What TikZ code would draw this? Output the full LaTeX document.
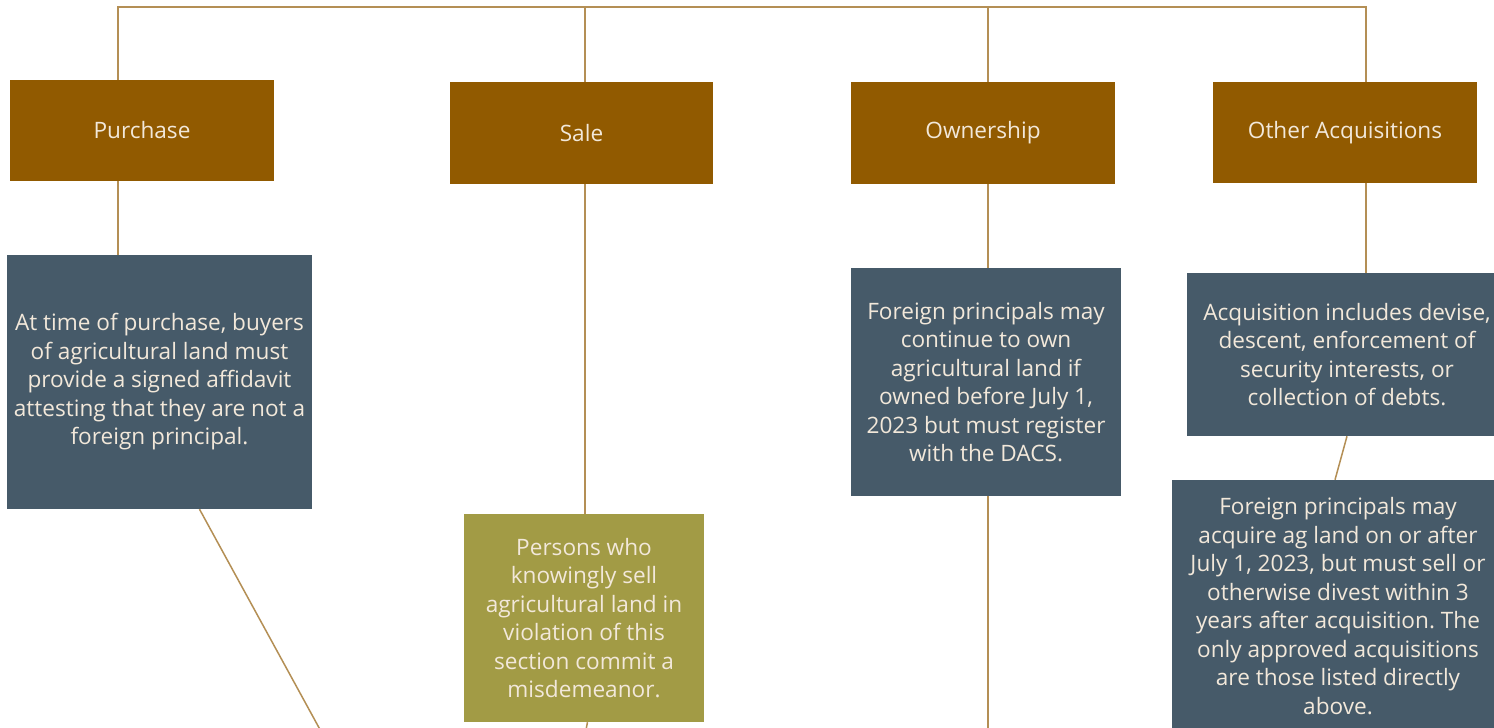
\documentclass[tikz,border=0pt]{standalone}
\usepackage{fontspec}
\setmainfont{Open Sans}
\frenchspacing
\definecolor{hdr}{HTML}{915A00}
\definecolor{slate}{HTML}{465A69}
\definecolor{olive}{HTML}{A29B45}
\definecolor{wire}{HTML}{B48F55}
\definecolor{txt}{HTML}{F2E8DA}
\tikzset{
  box/.style={rectangle, inner sep=0pt, text=txt, align=center, font=\fontsize{22.6}{28.5}\selectfont\frenchspacing},
  hdrbox/.style={box, fill=hdr},
  slatebox/.style={box, fill=slate},
  olivebox/.style={box, fill=olive},
  wireline/.style={draw=wire, line width=1.5pt}
}
\begin{document}
\begin{tikzpicture}[x=1pt,y=-1pt]
\useasboundingbox (0,0) rectangle (1494,728);
\clip (0,0) rectangle (1494,728);
\fill[white] (0,0) rectangle (1494,728);
% headers
\node[hdrbox, minimum width=264pt, minimum height=101pt] (pur) at (142,130.5) {Purchase};
\node[hdrbox, minimum width=263pt, minimum height=102pt] (sal) at (581.5,133) {Sale};
\node[hdrbox, minimum width=264pt, minimum height=102pt] (own) at (983,133) {Ownership};
\node[hdrbox, minimum width=264pt, minimum height=101pt] (oth) at (1345,132.5) {Other Acquisitions};
% details
\node[slatebox, minimum width=305pt, minimum height=254pt] (pd) at (159.5,382) {At time of purchase, buyers\\of agricultural land must\\provide a signed affidavit\\attesting that they are not a\\foreign principal.};
\node[olivebox, minimum width=240pt, minimum height=208pt] (sd) at (584,618) {Persons who\\knowingly sell\\agricultural land in\\violation of this\\section commit a\\misdemeanor.};
\node[slatebox, minimum width=270pt, minimum height=228pt] (od) at (986,382) {Foreign principals may\\continue to own\\agricultural land if\\owned before July 1,\\2023 but must register\\with the DACS.};
\node[slatebox, minimum width=320pt, minimum height=163pt] (ad) at (1347,354.5) {Acquisition includes devise,\\descent, enforcement of\\security interests, or\\collection of debts.};
\node[slatebox, minimum width=332pt, minimum height=252pt] (fd) at (1338,606) {Foreign principals may\\acquire ag land on or after\\July 1, 2023, but must sell or\\otherwise divest within 3\\years after acquisition. The\\only approved acquisitions\\are those listed directly\\above.};
% coordinates for free ends
\coordinate (top) at (118,7);
\coordinate (pend) at (323,735);
\coordinate (oend) at (988,735);
\coordinate (send) at (585,735);
% connectors
\draw[wireline] ([xshift=-24pt]pur.north) |- (top) -| ([xshift=21pt]oth.north);
\draw[wireline] ([xshift=3.5pt]sal.north) -- ([xshift=3.5pt]sal.north |- top);
\draw[wireline] ([xshift=5pt]own.north) -- ([xshift=5pt]own.north |- top);
\draw[wireline] ([xshift=-24pt]pur.south) -- ([xshift=-24pt]pur.south |- pd.north);
\draw[wireline] ([xshift=3.5pt]sal.south) -- ([xshift=3.5pt]sal.south |- sd.north);
\draw[wireline] ([xshift=3.5pt]sd.south) -- (send);
\draw[wireline] ([xshift=5pt]own.south) -- ([xshift=5pt]own.south |- od.north);
\draw[wireline] ([xshift=2pt]od.south) -- (oend);
\draw[wireline] ([xshift=21pt]oth.south) -- ([xshift=21pt]oth.south |- ad.north);
\draw[wireline] ([xshift=40pt]pd.south) -- (pend);
\draw[wireline] (ad.south) -- ([xshift=-3pt]fd.north);
\end{tikzpicture}
\end{document}
